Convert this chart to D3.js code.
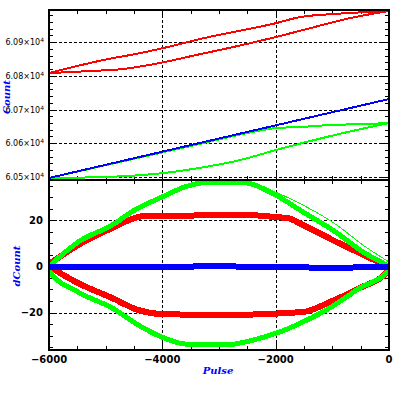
<!DOCTYPE html>
<html>
<head>
<meta charset="utf-8">
<script src="https://cdn.jsdelivr.net/npm/d3@7"></script>
<style>
    body { margin: 0; background: #fff; }
    svg { display: block; }
</style>
</head>
<body>
<svg id="chart" width="399" height="399"></svg>
<script>
// Top panel: Count vs Pulse, one branch per array, [pulse, count]
var blueTop = [[-6000, 60497], [-4000, 60575], [-2000, 60653], [0, 60731]];
var greenTopUp = [[-6000, 60497], [-3335, 60598], [-2806, 60619], [-2329, 60636],
    [-1994, 60645], [-1571, 60648], [-1041, 60654], [-388, 60657], [0, 60660]];
var greenTopLow = [[-6000, 60497], [-4976, 60500], [-3812, 60515], [-3335, 60527],
    [-2629, 60550], [-1994, 60580], [-1041, 60621], [0, 60660]];
var redTopUp = [[-6000, 60808], [-5576, 60826], [-4976, 60849], [-4394, 60867],
    [-3988, 60882], [-3335, 60909], [-1994, 60956], [-1571, 60974], [-988, 60983],
    [-388, 60989], [0, 60992]];
var redTopLow = [[-6000, 60808], [-5276, 60814], [-4694, 60820], [-4041, 60838],
    [-3335, 60864], [-2753, 60885], [-1994, 60915], [-1394, 60941], [-688, 60971],
    [0, 60992]];

// Bottom panel: dCount vs Pulse, [pulse, dCount]
var greenBotUp = [[-6000, 0], [-5488, 10.6], [-4888, 18.0], [-4482, 24.6], [-4006, 30.2],
    [-3600, 34.6], [-3247, 36.5], [-2894, 36.7], [-2506, 36.3], [-2100, 32.4],
    [-1518, 23.7], [-918, 14.6], [-459, 6.3], [-106, 1.5], [0, 0]];
var greenBotOutlier = [[-2506, 36.0], [-2188, 34.0], [-1518, 26.7], [-918, 18.0],
    [-459, 9.3], [0, 2.0]];
var greenBotLow = [[-6000, 0], [-5982, -2.4], [-5488, -11.1], [-4888, -18.0], [-4429, -25.4],
    [-4006, -30.7], [-3600, -33.7], [-2894, -34.1], [-2400, -32.0], [-1976, -28.9],
    [-1518, -24.1], [-1041, -18.0], [-512, -9.3], [-35, -2.4], [0, 0]];
var redBotUp = [[-6000, 1.0], [-5488, 9.3], [-4888, 16.7], [-4482, 21.1], [-4306, 22.0],
    [-3724, 22.0], [-2894, 22.6], [-1800, 21.1], [-1518, 18.0], [-918, 10.6],
    [-335, 3.7], [0, 0]];
var redBotLow = [[-6000, 0], [-5488, -7.2], [-4888, -13.7], [-4429, -18.9], [-4006, -20.7],
    [-2894, -21.1], [-1518, -19.8], [-1041, -15.4], [-512, -9.3], [-35, -2.4], [0, 0]];
var blueBot = [[-6000, 0], [-5000, -0.3], [-4000, -0.2], [-3000, 0.1], [-2500, -0.1],
    [-2000, -0.3], [-1000, -0.5], [0, -0.2]];

// Tick values
var xMajor = [-6000, -4000, -2000, 0];
var xGrid = [-4000, -2000];
var yTopMajor = [60500, 60600, 60700, 60800, 60900];
var yBotMajor = [-20, 0, 20];

var svg = d3.select("#chart");

// Panel geometry
var left = 49, right = 389, topY = 10, midY = 180, bottomY = 350;

var x = d3.scaleLinear().domain([-6000, 0]).range([left, right]);
var yTop = d3.scaleLinear().domain([60491, 60995]).range([midY, topY]);
var yBot = d3.scaleLinear().domain([-36.3, 37.6]).range([bottomY, midY]);

var fmt = d3.format("d");

// Draw one panel's grid and inward ticks on all four sides
function drawFrame(y, y0, y1, major, minorStep) {
    var g = svg.append("g").attr("shape-rendering", "crispEdges");

    // Dashed grid
    g.selectAll(".hgrid").data(major).enter()
        .append("line")
        .attr("x1", left).attr("x2", right)
        .attr("y1", function (d) { return Math.round(y(d)) + 0.5; })
        .attr("y2", function (d) { return Math.round(y(d)) + 0.5; })
        .style("stroke", "#000")
        .style("stroke-dasharray", "3,2");
    g.selectAll(".vgrid").data(xGrid).enter()
        .append("line")
        .attr("x1", function (d) { return Math.round(x(d)) + 0.5; })
        .attr("x2", function (d) { return Math.round(x(d)) + 0.5; })
        .attr("y1", y1).attr("y2", y0)
        .style("stroke", "#000")
        .style("stroke-dasharray", "3,2");

    // Minor + major ticks on y (left and right)
    var yd = y.domain();
    var minor = d3.range(Math.ceil(yd[0] / minorStep) * minorStep, yd[1], minorStep);
    minor.forEach(function (v) {
        var len = major.indexOf(v) >= 0 ? 8 : 4;
        var py = Math.round(y(v)) + 0.5;
        g.append("line").attr("x1", left).attr("x2", left + len)
            .attr("y1", py).attr("y2", py).style("stroke", "#000");
        g.append("line").attr("x1", right).attr("x2", right - len)
            .attr("y1", py).attr("y2", py).style("stroke", "#000");
    });

    // Minor + major ticks on x (top and bottom)
    d3.range(-6000, 1, 500).forEach(function (v) {
        var len = xMajor.indexOf(v) >= 0 ? 8 : 4;
        var px = Math.round(x(v)) + 0.5;
        g.append("line").attr("x1", px).attr("x2", px)
            .attr("y1", y1).attr("y2", y1 + len).style("stroke", "#000");
        g.append("line").attr("x1", px).attr("x2", px)
            .attr("y1", y0).attr("y2", y0 - len).style("stroke", "#000");
    });
}

function drawBorder(y0, y1) {
    svg.append("rect")
        .attr("x", left).attr("y", y1)
        .attr("width", right - left).attr("height", y0 - y1)
        .attr("shape-rendering", "crispEdges")
        .style("fill", "none")
        .style("stroke", "#000")
        .style("stroke-width", 2);
}

drawFrame(yTop, midY, topY, yTopMajor, 20);
drawFrame(yBot, bottomY, midY, yBotMajor, 5);

// Clip the data to each panel
var defs = svg.append("defs");
defs.append("clipPath").attr("id", "clipTop").append("rect")
    .attr("x", left).attr("y", topY).attr("width", right - left).attr("height", midY - topY);
defs.append("clipPath").attr("id", "clipBot").append("rect")
    .attr("x", left).attr("y", midY).attr("width", right - left).attr("height", bottomY - midY);

function drawLine(data, y, clip, color, width) {
    var line = d3.line()
        .x(function (d) { return x(d[0]); })
        .y(function (d) { return y(d[1]); })
        .curve(d3.curveMonotoneX);
    svg.append("path")
        .datum(data)
        .attr("clip-path", "url(#" + clip + ")")
        .attr("d", line)
        .attr("shape-rendering", "crispEdges")
        .style("fill", "none")
        .style("stroke", color)
        .style("stroke-width", width);
}

// Top panel series
drawLine(greenTopLow, yTop, "clipTop", "#00ff00", 2);
drawLine(greenTopUp, yTop, "clipTop", "#00ff00", 2);
drawLine(blueTop, yTop, "clipTop", "#0000ff", 2);
drawLine(redTopLow, yTop, "clipTop", "#ff0000", 2);
drawLine(redTopUp, yTop, "clipTop", "#ff0000", 2);

// Bottom panel series (many overlapping cycles, drawn as bands)
drawLine(redBotUp, yBot, "clipBot", "#ff0000", 6);
drawLine(redBotLow, yBot, "clipBot", "#ff0000", 6);
drawLine(greenBotUp, yBot, "clipBot", "#00ff00", 5);
drawLine(greenBotOutlier, yBot, "clipBot", "#00ff00", 1);
drawLine(greenBotLow, yBot, "clipBot", "#00ff00", 5);
drawLine(blueBot, yBot, "clipBot", "#0000ff", 6);

drawBorder(midY, topY);
drawBorder(bottomY, midY);

// Tick labels
var font = "DejaVu Sans";

var topLabels = svg.selectAll(".ytop").data(yTopMajor).enter()
    .append("text")
    .attr("x", 44)
    .attr("y", function (d) { return yTop(d) + 3; })
    .attr("text-anchor", "end")
    .style("font-family", font)
    .style("font-size", "8px")
    .style("fill", "#000");
topLabels.append("tspan").text(function (d) { return (d / 1e4).toFixed(2) + "×10"; });
topLabels.append("tspan").attr("dy", -3).style("font-size", "6px").text("4");

svg.selectAll(".ybot").data(yBotMajor).enter()
    .append("text")
    .attr("x", 43)
    .attr("y", function (d) { return yBot(d) + 3.5; })
    .attr("text-anchor", "end")
    .style("font-family", font)
    .style("font-size", "10px")
    .style("font-weight", "bold")
    .style("fill", "#000")
    .text(function (d) { return fmt(d); });

svg.selectAll(".xlab").data(xMajor).enter()
    .append("text")
    .attr("x", function (d) { return x(d); })
    .attr("y", 363)
    .attr("text-anchor", "middle")
    .style("font-family", font)
    .style("font-size", "10px")
    .style("font-weight", "bold")
    .style("fill", "#000")
    .text(function (d) { return fmt(d); });

// Axis titles
function title(tx, ty, rot, label) {
    svg.append("text")
        .attr("transform", "translate(" + tx + "," + ty + ")" + (rot ? " rotate(-90)" : ""))
        .attr("text-anchor", "middle")
        .style("font-family", "DejaVu Serif")
        .style("font-style", "italic")
        .style("font-weight", "bold")
        .style("font-size", "10px")
        .style("fill", "#0000ff")
        .text(label);
}
title(218, 374, false, "Pulse");
title(10, 97, true, "Count");
title(20, 266, true, "dCount");
</script>
</body>
</html>
